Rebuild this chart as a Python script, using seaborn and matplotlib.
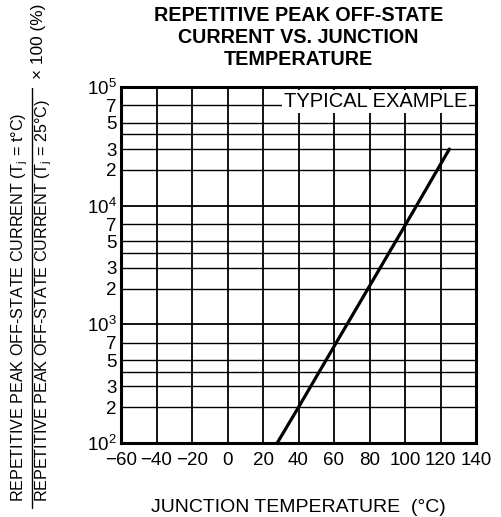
import matplotlib
matplotlib.use("Agg")
import matplotlib.pyplot as plt
import matplotlib.ticker as mticker
from matplotlib.lines import Line2D
import seaborn as sns

# data
temps = [28, 40, 60, 80, 100, 125]
ratio = [100, 200, 650, 2100, 6800, 30000]
x_ticks = [-60, -40, -20, 0, 20, 40, 60, 80, 100, 120, 140]
y_major = [1e2, 1e3, 1e4, 1e5]
y_minor_mult = [2, 3, 4, 5, 7]
y_minor_labels = {2: "2", 3: "3", 4: "", 5: "5", 7: "7"}

sns.set_theme(style="white")
plt.rcParams['font.family'] = ['Liberation Sans', 'DejaVu Sans']
plt.rcParams['text.color'] = 'black'
plt.rcParams['axes.labelcolor'] = 'black'
plt.rcParams['mathtext.fontset'] = 'custom'
plt.rcParams['mathtext.rm'] = 'Liberation Sans'
plt.rcParams['mathtext.it'] = 'Liberation Sans:italic'
plt.rcParams['mathtext.bf'] = 'Liberation Sans:bold'

fig = plt.figure(figsize=(5.01, 5.17), dpi=100)
ax = fig.add_axes([121 / 501, 1 - 443 / 517, 355 / 501, 356 / 517])

sns.lineplot(x=temps, y=ratio, ax=ax, color="black", linewidth=2.3, zorder=4)

ax.set_yscale("log")
ax.set_xlim(-60, 140)
ax.set_ylim(1e2, 1e5)

ax.set_xticks(x_ticks)
ax.set_xticklabels(["\u2212" + str(-t) if t < 0 else str(t) for t in x_ticks])

ax.yaxis.set_major_locator(mticker.FixedLocator(y_major))
ax.set_yticklabels([r"$\mathregular{10^{%d}}$" % e for e in [2, 3, 4, 5]])
minor_pos = [m * 10 ** e for e in [2, 3, 4] for m in y_minor_mult]
ax.yaxis.set_minor_locator(mticker.FixedLocator(minor_pos))
ax.yaxis.set_minor_formatter(mticker.FixedFormatter(
    [y_minor_labels[m] for e in [2, 3, 4] for m in y_minor_mult]))

ax.tick_params(axis="both", which="both", length=0, labelsize=13.5, colors="black")
ax.tick_params(axis="y", which="both", pad=3)
ax.tick_params(axis="x", pad=6.5)

ax.grid(True, which="major", color="black", linewidth=1.3)
ax.grid(True, which="minor", axis="y", color="black", linewidth=1.0)
ax.set_axisbelow(True)
for s in ax.spines.values():
    s.set_color("black")
    s.set_linewidth(2.2)

ax.text(0.975, 0.958, "TYPICAL EXAMPLE", transform=ax.transAxes, ha="right",
        va="center", fontsize=14.5, zorder=5,
        bbox=dict(facecolor="white", edgecolor="none", pad=1.5))

ax.set_title("REPETITIVE PEAK OFF-STATE\nCURRENT VS. JUNCTION\nTEMPERATURE",
             fontsize=14.2, fontweight="bold", pad=16, linespacing=1.2)
ax.set_xlabel("JUNCTION TEMPERATURE  (°C)", fontsize=14, labelpad=21.5)
ax.set_ylabel("")

# y label as a fraction
num = r"REPETITIVE PEAK OFF-STATE CURRENT (T$_\mathregular{j}$ = t°C)"
den = r"REPETITIVE PEAK OFF-STATE CURRENT (T$_\mathregular{j}$ = 25°C)"
fig.text(20 / 501, 1 - 502 / 517, num, rotation=90, ha="center", va="bottom",
         fontsize=11.6)
fig.text(44 / 501, 1 - 502 / 517, den, rotation=90, ha="center", va="bottom",
         fontsize=11.6)
fig.add_artist(Line2D([32 / 501, 32 / 501], [1 - 508 / 517, 1 - 88 / 517],
                      transform=fig.transFigure, color="black", linewidth=1))
fig.text(38 / 501, 1 - 4 / 517, "\u00d7 100 (%)", rotation=90, ha="center",
         va="top", fontsize=12.4)

fig.savefig("out.png", dpi=100)
